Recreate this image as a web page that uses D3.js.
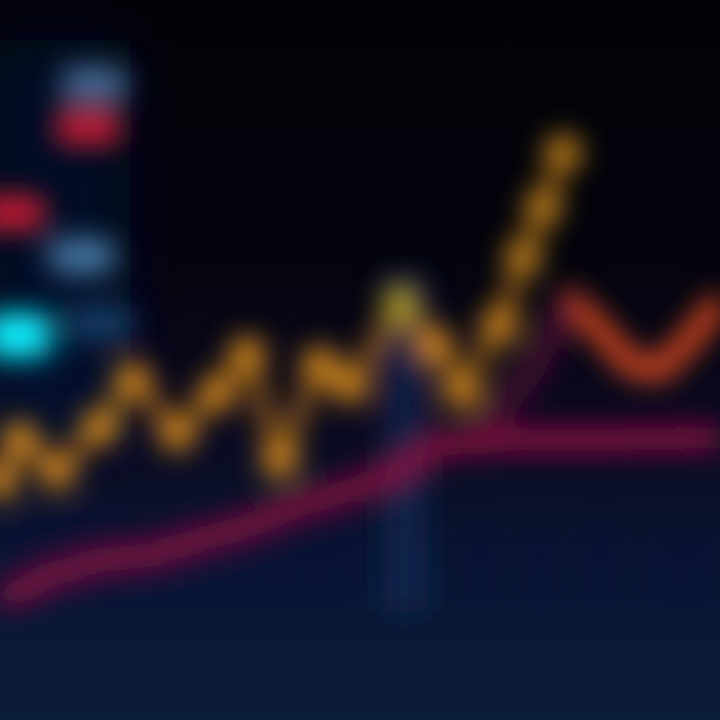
<!DOCTYPE html>
<html><head><meta charset="utf-8">
<script src="https://cdn.jsdelivr.net/npm/d3@7"></script>
<style>html,body{margin:0;padding:0;background:#03040a;}svg{display:block;}</style>
</head><body>
<script>
// ---- data ----
const goldX = [0, 1, 2.85, 5, 6.65, 8.85, 10.85, 12.35, 14, 16, 17.5, 20, 21.75, 23.1, 25, 26.15, 27.15, 28.15];
const goldY = [33.3, 38.9, 34.7, 40.7, 47.2, 39.9, 45.4, 50.7, 36.1, 49.3, 46.5, 57.6, 52, 45.8, 54.9, 64.3, 71.2, 78.8];
const emberX = [24, 26.5, 28.5, 30, 31.5, 33, 34.5, 36];
const emberY = [40, 48, 58.3, 54.2, 49.3, 48.6, 52.8, 58.3];
const crimsonX = [0, 2.5, 5, 7.5, 10, 12.5, 15, 17.5, 20, 22, 25, 30, 36];
const crimsonY = [16.7, 20.1, 22.2, 22.9, 25, 27.1, 29.9, 31.9, 34.7, 38.2, 38.9, 38.9, 39.2];
const barX = [1, 3, 5, 7, 9, 11, 13, 15, 17, 20.25, 24, 27, 30, 33, 35];
const barY = [14, 16, 15, 13, 14, 12, 14, 13, 15, 47, 12, 11, 12, 10, 11];
const legendColors = ["#4a6a95", "#c81a35", "#c81a30", "#4a7aa5", "#10f0ff", "#123c66"];
const legendPos = [[4.7, 88.2], [4.4, 82.2], [0.6, 70.3], [4.1, 64.3], [0.9, 54], [5, 55]];

const W = 720, H = 720;
const x = d3.scaleLinear().domain([0, 36]).range([0, W]);
const y = d3.scaleLinear().domain([0, 100]).range([H, 0]);

const svg = d3.select("body").append("svg").attr("width", W).attr("height", H);
const defs = svg.append("defs");
const bg = defs.append("linearGradient").attr("id", "bg").attr("x1", 0).attr("y1", 0).attr("x2", 0).attr("y2", 1);
[["0%", "#020308"], ["35%", "#04040d"], ["58%", "#0b0920"], ["78%", "#0a1632"], ["100%", "#0b1c38"]]
  .forEach(([o, c]) => bg.append("stop").attr("offset", o).attr("stop-color", c));
const f = defs.append("filter").attr("id", "blur").attr("x", "-20%").attr("y", "-20%").attr("width", "140%").attr("height", "140%");
f.append("feGaussianBlur").attr("stdDeviation", 14);
const f2 = defs.append("filter").attr("id", "blur2").attr("x", "-50%").attr("y", "-50%").attr("width", "200%").attr("height", "200%");
f2.append("feGaussianBlur").attr("stdDeviation", 30);

svg.append("rect").attr("width", W).attr("height", H).attr("fill", "url(#bg)");

// soft haze
const haze = svg.append("g").attr("filter", "url(#blur2)");
haze.append("rect").attr("x", -20).attr("y", 40).attr("width", 150).attr("height", 400).attr("fill", "#061838").attr("opacity", 0.6);

const g = svg.append("g").attr("filter", "url(#blur)");

// bars
g.selectAll("rect.bar").data(barX).join("rect").attr("class", "bar")
  .attr("x", d => x(d) - 22).attr("width", 44)
  .attr("y", (d, i) => y(barY[i] + 15)).attr("height", (d, i) => y(15) - y(barY[i] + 15))
  .attr("fill", (d, i) => i === 9 ? "#0c2c5e" : "#0a2040").attr("opacity", (d, i) => i === 9 ? 0.6 : 0.12);

const line = d3.line().curve(d3.curveLinear);

// crimson
g.append("path").attr("d", line(crimsonX.map((d, i) => [x(d), y(crimsonY[i])])))
  .attr("fill", "none").attr("stroke", "#8a1040").attr("stroke-width", 24).attr("stroke-linejoin", "round");

// ember
g.append("path").attr("d", line(emberX.map((d, i) => [x(d), y(emberY[i])])))
  .attr("fill", "none").attr("stroke", "#e24c1c").attr("stroke-width", 22).attr("stroke-linejoin", "round");
g.append("path").attr("d", line(emberX.slice(0, 3).map((d, i) => [x(d), y(emberY[i])])))
  .attr("fill", "none").attr("stroke", "#4a1030").attr("stroke-width", 24);

// gold
g.append("path").attr("d", line(goldX.map((d, i) => [x(d), y(goldY[i])])))
  .attr("fill", "none").attr("stroke", "#b87416").attr("stroke-width", 13).attr("stroke-linejoin", "round");
g.selectAll("circle.gold").data(goldX).join("circle").attr("class", "gold")
  .attr("cx", d => x(d)).attr("cy", (d, i) => y(goldY[i])).attr("r", 18)
  .attr("fill", (d, i) => i === 11 ? "#b0a020" : (i >= 15 ? "#c8861c" : "#dc8e1c"));

// legend swatches
g.selectAll("rect.leg").data(legendColors).join("rect").attr("class", "leg")
  .attr("x", (d, i) => x(legendPos[i][0]) - 32).attr("y", (d, i) => y(legendPos[i][1]) - 18)
  .attr("width", 64).attr("height", (d, i) => i === 4 ? 44 : 34).attr("rx", 8)
  .attr("fill", d => d);
</script>
</body></html>
